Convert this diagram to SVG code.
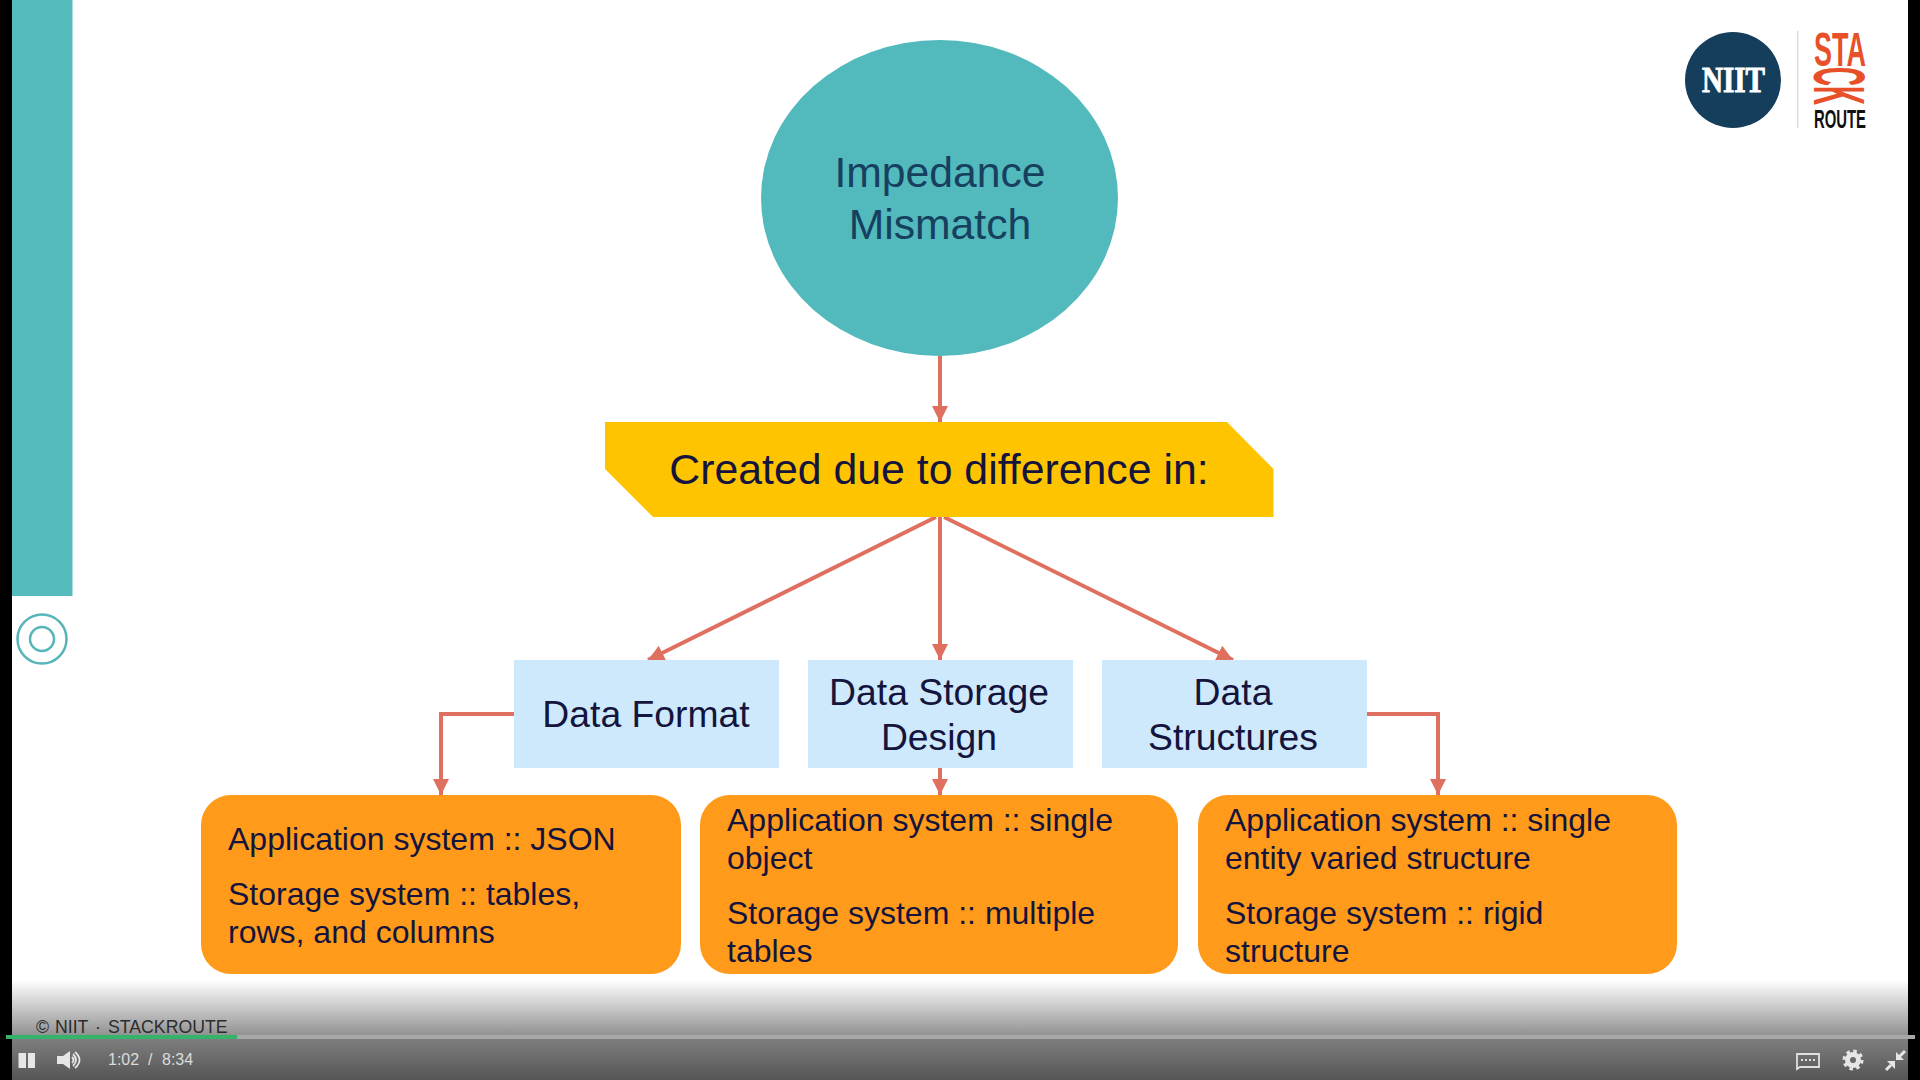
<svg xmlns="http://www.w3.org/2000/svg" width="1920" height="1080" viewBox="0 0 1920 1080">
<style>
text{font-family:"Liberation Sans",Arial,sans-serif;fill:#14143c}
.c{text-anchor:middle}
.conn{fill:none;stroke:#df7060;stroke-width:4}
.blue{fill:#cfe9fc}
.or{fill:#ff9a1a}
.t{font-size:32px}
.b{font-size:37.300px}
.ctl{fill:#e6e6e6}
.ctlt{font-size:16px;fill:#dcdcdc}
.foot{font-size:17.700px;fill:#2c2c2c}
</style>
<defs>
<marker id="ah" markerUnits="userSpaceOnUse" markerWidth="20" markerHeight="18" refX="16" refY="8" orient="auto"><path d="M0 0L16 8L0 16Z" fill="#df7060"/></marker>
<linearGradient id="fade" x1="0" y1="0" x2="0" y2="1"><stop offset="0" stop-color="#fff"/><stop offset="1" stop-color="#8e8e8e"/></linearGradient>
<linearGradient id="bar" x1="0" y1="0" x2="0" y2="1"><stop offset="0" stop-color="#808080"/><stop offset="1" stop-color="#555"/></linearGradient>
</defs>
<rect width="1920" height="1080" fill="#fff"/>
<rect x="12" y="0" width="60.500" height="596" fill="#56bbbd"/>
<g id="target-icon" fill="none" stroke="#56b5b8" stroke-width="2.500"><circle cx="42" cy="639" r="24.500"/><circle cx="42" cy="639" r="12"/></g>
<g id="connectors" class="conn">
<path d="M940 356V422" marker-end="url(#ah)"/>
<path d="M936 517L648 660" marker-end="url(#ah)"/>
<path d="M940 517V660" marker-end="url(#ah)"/>
<path d="M944 517L1233 660" marker-end="url(#ah)"/>
<path d="M514 714H441V795" marker-end="url(#ah)"/>
<path d="M940 768V795" marker-end="url(#ah)"/>
<path d="M1367 714H1438V795" marker-end="url(#ah)"/>
</g>
<g id="impedance-mismatch"><ellipse cx="939.500" cy="198" rx="178.500" ry="158" fill="#52b9bd"/>
<text class="c" x="940" y="187" font-size="42.700" style="fill:#17405f">Impedance</text>
<text class="c" x="940" y="239" font-size="42.700" style="fill:#17405f">Mismatch</text></g>
<g id="banner"><path d="M605 422H1227L1273.500 469V517H653L605 469Z" fill="#ffc400"/>
<text class="c" x="939" y="484" font-size="42.800">Created due to difference in:</text></g>
<g id="data-format"><rect class="blue" x="514" y="660" width="265" height="108"/><text class="c b" x="646" y="727">Data Format</text></g>
<g id="data-storage"><rect class="blue" x="808" y="660" width="265" height="108"/><text class="c b" x="939" y="705">Data Storage</text><text class="c b" x="939" y="750">Design</text></g>
<g id="data-structures"><rect class="blue" x="1102" y="660" width="265" height="108"/><text class="c b" x="1233" y="705">Data</text><text class="c b" x="1233" y="750">Structures</text></g>
<g id="detail-format"><rect class="or" x="201" y="795" width="480" height="179" rx="30"/>
<text class="t" x="228" y="850">Application system :: JSON</text><text class="t" x="228" y="905">Storage system :: tables,</text><text class="t" x="228" y="943">rows, and columns</text></g>
<g id="detail-storage"><rect class="or" x="700" y="795" width="478" height="179" rx="30"/>
<text class="t" x="727" y="831">Application system :: single</text><text class="t" x="727" y="869">object</text><text class="t" x="727" y="924">Storage system :: multiple</text><text class="t" x="727" y="962">tables</text></g>
<g id="detail-structures"><rect class="or" x="1198" y="795" width="479" height="179" rx="30"/>
<text class="t" x="1225" y="831">Application system :: single</text><text class="t" x="1225" y="869">entity varied structure</text><text class="t" x="1225" y="924">Storage system :: rigid</text><text class="t" x="1225" y="962">structure</text></g>
<g id="logo">
<circle cx="1733" cy="80" r="48" fill="#143e5b"/>
<text x="1702" y="92" font-size="36" font-weight="bold" textLength="63" lengthAdjust="spacingAndGlyphs" stroke="#fff" stroke-width="1" style="font-family:'Liberation Serif',serif;fill:#fff">NIIT</text>
<rect x="1797" y="31" width="1.500" height="97" fill="#ddd"/>
<text x="1814" y="66" font-size="49" font-weight="bold" textLength="52" lengthAdjust="spacingAndGlyphs" style="fill:#e8502a">STA</text>
<text transform="translate(1814 67) rotate(90)" font-size="72" font-weight="bold" textLength="38" lengthAdjust="spacingAndGlyphs" style="fill:#e8502a">CK</text>
<text x="1814" y="128" font-size="25" font-weight="bold" textLength="52" lengthAdjust="spacingAndGlyphs" style="fill:#111">ROUTE</text>
</g>
<rect x="12" y="980" width="1896" height="57" fill="url(#fade)"/>
<rect x="12" y="1037" width="1896" height="43" fill="url(#bar)"/>
<rect x="0" y="0" width="12" height="1080" fill="#000"/>
<rect x="1908" y="0" width="12" height="1080" fill="#000"/>
<g id="player">
<text class="foot" x="36" y="1033">©</text><text class="foot" x="55" y="1033">NIIT</text><text class="foot" x="95" y="1033">·</text><text class="foot" x="108" y="1033">STACKROUTE</text>
<rect x="6" y="1035" width="1909" height="4" fill="#a8a8a8"/>
<rect x="6" y="1035" width="231" height="4" fill="#35b36b"/>
<path class="ctl" d="M18.500 1053h7.500v15h-7.500zM28 1053h7v15h-7z"/>
<path class="ctl" d="M57 1056h6l7-5v18l-7-5h-6z"/>
<path d="M72 1057q3 3 0 6M73 1054q6 6 0 12M75 1052q9 8 0 16" fill="none" stroke="#e6e6e6" stroke-width="1.800"/>
<text class="ctlt" x="108" y="1065">1:02</text><text class="ctlt" x="148" y="1065">/</text><text class="ctlt" x="162" y="1065">8:34</text>
<path d="M1797 1054h22v13h-19l-3 2z" fill="none" stroke="#e0e0e0" stroke-width="1.800"/>
<path d="M1801 1059h2v2h-2zM1805 1059h2v2h-2zM1809 1059h2v2h-2zM1813 1059h2v2h-2z" fill="#e0e0e0"/>
<circle cx="1853" cy="1060" r="5.500" fill="none" stroke="#e6e6e6" stroke-width="5"/>
<circle cx="1853" cy="1060" r="9" fill="none" stroke="#e6e6e6" stroke-width="3" stroke-dasharray="3.500 3.570"/>
<path class="ctl" d="M1896 1060v-8l8 8zM1895 1061h-8l8 8z"/>
<path d="M1899 1057l6-6M1891 1065l-5 5" stroke="#e6e6e6" stroke-width="3" fill="none"/>
</g>
</svg>
